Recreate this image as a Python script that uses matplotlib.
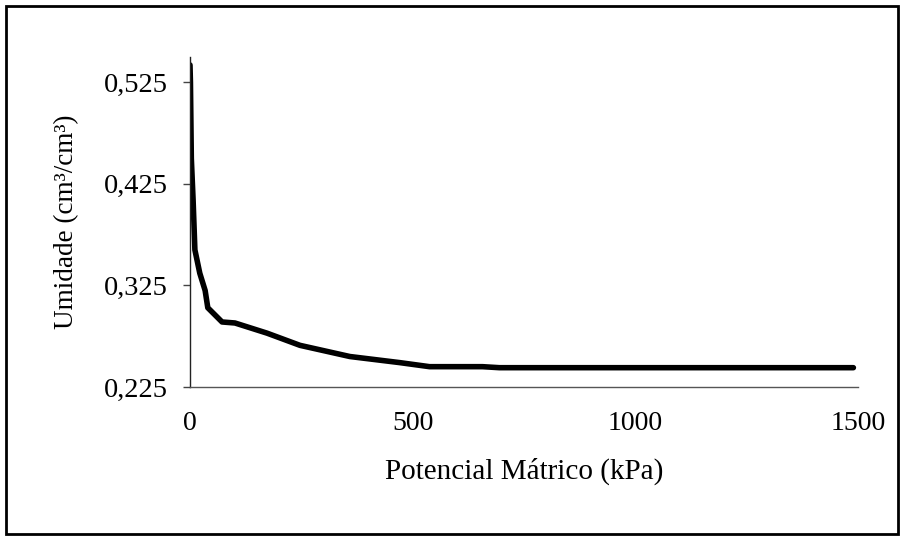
import matplotlib
matplotlib.use('Agg')
import matplotlib.pyplot as plt
from matplotlib.patches import Rectangle
from matplotlib.ticker import FuncFormatter

# data
potencial = [0, 1, 3, 7, 11, 22, 34, 40, 72, 101, 173, 247, 359, 471, 538, 657, 695, 1000, 1490]
umidade = [0.542, 0.525, 0.45, 0.409, 0.360, 0.337, 0.320, 0.303, 0.289, 0.288, 0.278, 0.266,
           0.255, 0.249, 0.245, 0.245, 0.244, 0.244, 0.244]
y_ticks = [0.225, 0.325, 0.425, 0.525]
x_ticks = [0, 500, 1000, 1500]

plt.rcParams['font.family'] = ['Liberation Serif', 'DejaVu Serif']

fig = plt.figure(figsize=(9.03, 5.36), dpi=100)
ax = fig.add_axes([0.2104, 0.278, 0.7396, 0.616])

ax.plot(potencial, umidade, color='black', lw=4, solid_capstyle='round')

ax.set_xlim(0, 1500)
ax.set_ylim(0.225, 0.55)
ax.set_xticks(x_ticks)
ax.set_yticks(y_ticks)
ax.yaxis.set_major_formatter(FuncFormatter(lambda v, p: ('%.3f' % v).replace('.', ',')))

ax.spines['top'].set_visible(False)
ax.spines['right'].set_visible(False)
ax.spines['left'].set_color('#222222')
ax.spines['left'].set_linewidth(1)
ax.spines['bottom'].set_color('#555555')
ax.spines['bottom'].set_linewidth(1)

ax.tick_params(axis='x', length=0, pad=17, labelsize=20)
ax.tick_params(axis='y', length=5, width=1, color='#444444', pad=11, labelsize=20.5)

ax.set_xlabel('Potencial Mátrico (kPa)', fontsize=21, labelpad=16)
ax.set_ylabel('Umidade (cm³/cm³)', fontsize=19.5, labelpad=18)

# outer frame around the whole chart
fig.patches.append(Rectangle((0.007, 0.004), 0.988, 0.984, transform=fig.transFigure,
                             fill=False, edgecolor='black', lw=2))

fig.savefig('out.png', dpi=100)
